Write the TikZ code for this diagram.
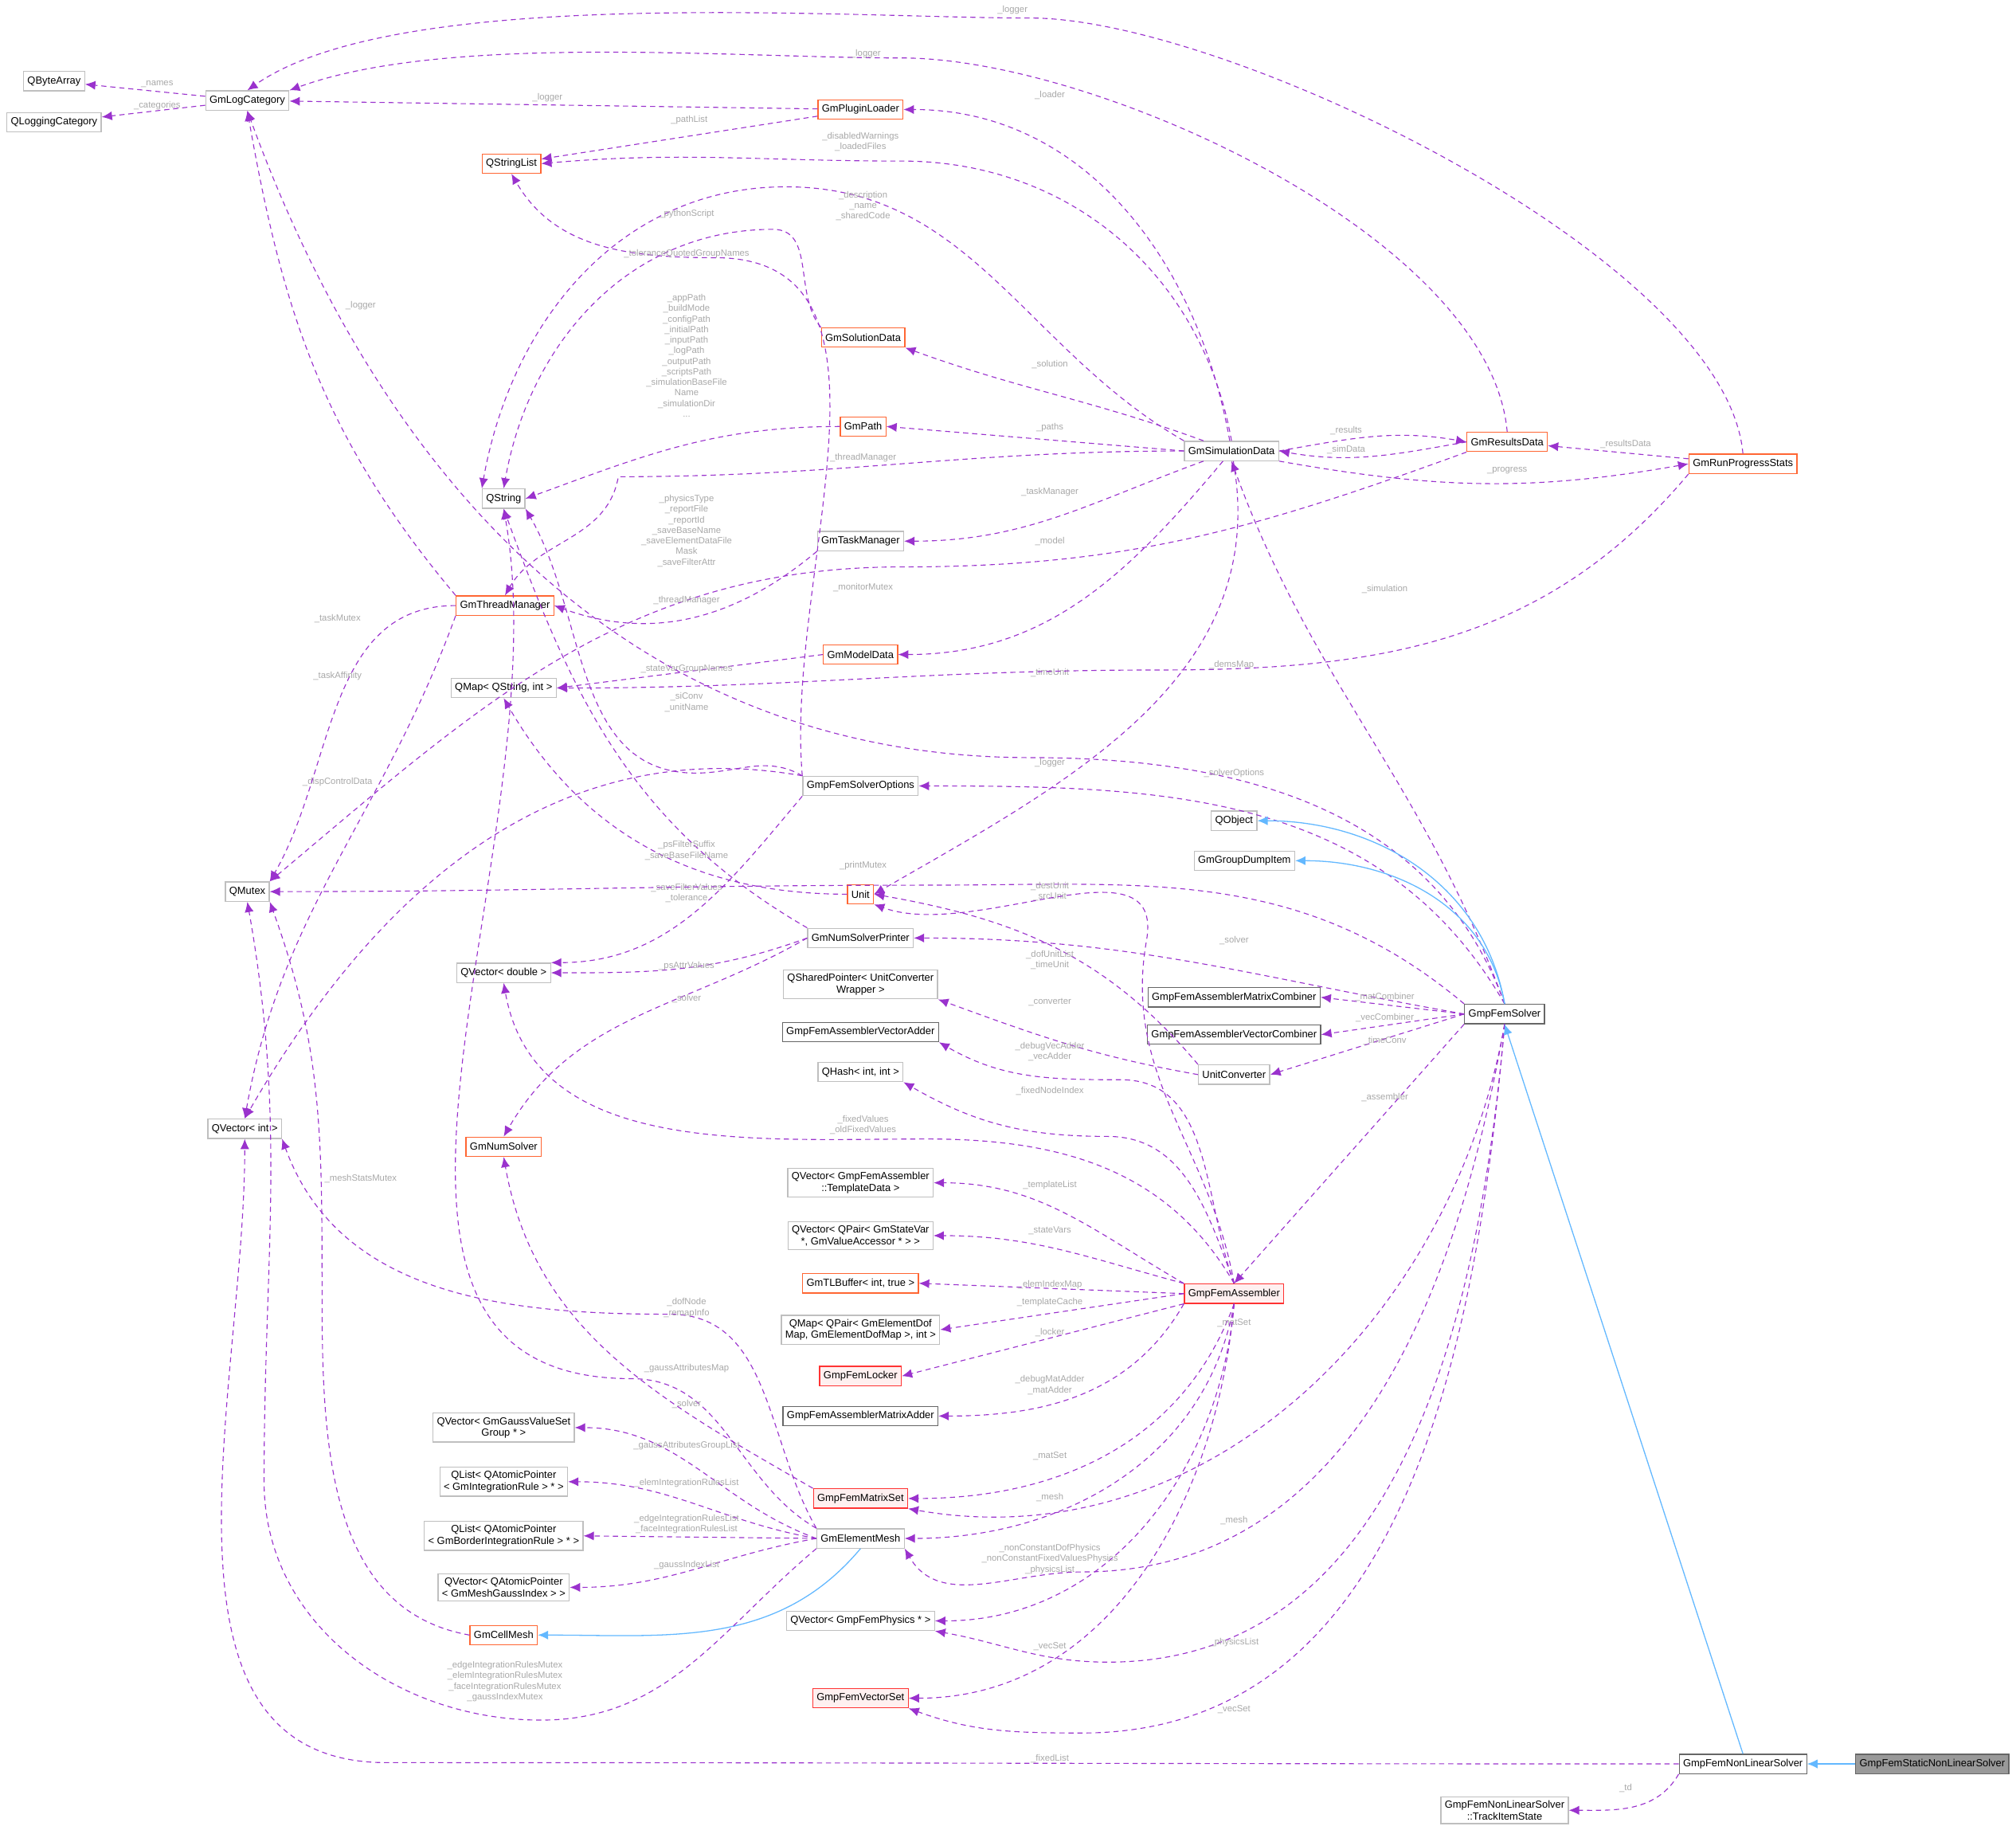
\documentclass[tikz,border=0pt]{standalone}
\usepackage{fontspec}
\setmainfont{Liberation Sans}
\usetikzlibrary{arrows.meta}
\definecolor{pur}{HTML}{9A32CD}
\definecolor{lblc}{HTML}{A8A8A8}
\definecolor{bgray}{HTML}{BFBFBF}
\definecolor{bor}{HTML}{FF6633}
\definecolor{bred}{HTML}{FF3333}
\definecolor{inh}{HTML}{63B8FF}
\begin{document}
\begin{tikzpicture}[x=1pt,y=-1pt,
 every node/.style={font=\fontsize{8}{9}\selectfont},
 box/.style={draw=bgray,fill=white,line width=0.8pt,inner sep=3pt,minimum height=15pt,align=center},
 obox/.style={box,draw=bor},
 rbox/.style={box,draw=bred,fill=red!6},
 dbox/.style={box,draw=black!60},
 root/.style={box,draw=black!60,fill=black!40},
 ref/.style={pur,dashed,dash pattern=on 4pt off 3pt,line width=0.7pt,-{Latex[length=8pt,width=7pt]}},
 isa/.style={inh,line width=0.8pt,-{Latex[length=8pt,width=7pt]}},
 lbl/.style={text=lblc,align=center,inner sep=0pt,font=\fontsize{7}{8.2}\selectfont}]
\useasboundingbox (0,0) rectangle (1565,1420);
% nodes
\node[box] (qba) at (42,63) {QByteArray};
\node[box] (qlc) at (42,95) {QLoggingCategory};
\node[box] (glc) at (192,78) {GmLogCategory};
\node[obox] (gpl) at (668,85) {GmPluginLoader};
\node[obox] (qsl) at (397,127) {QStringList};
\node[obox] (gsd) at (670,262) {GmSolutionData};
\node[obox] (gpath) at (670,331) {GmPath};
\node[box] (qs) at (391,387) {QString};
\node[box] (gsim) at (956,350) {GmSimulationData};
\node[obox] (grd) at (1170,343) {GmResultsData};
\node[obox] (grp) at (1353,360) {GmRunProgressStats};
\node[box] (gtm) at (668,420) {GmTaskManager};
\node[obox] (gthm) at (392,470) {GmThreadManager};
\node[obox] (gmd) at (668,508) {GmModelData};
\node[box] (qmqs) at (391,534) {QMap\textless{} QString, int \textgreater};
\node[box] (gfso) at (668,610) {GmpFemSolverOptions};
\node[box] (qobj) at (958,637) {QObject};
\node[box] (ggdi) at (966,668) {GmGroupDumpItem};
\node[box] (qmut) at (192,692) {QMutex};
\node[obox] (unit) at (668,694) {Unit};
\node[box] (gnsp) at (668,728) {GmNumSolverPrinter};
\node[box] (qvd) at (391,755) {QVector\textless{} double \textgreater};
\node[box] (qsp) at (668,764) {QSharedPointer\textless{} UnitConverter\\Wrapper \textgreater};
\node[dbox] (gmc) at (958,774) {GmpFemAssemblerMatrixCombiner};
\node[dbox] (gfs) at (1168,787) {GmpFemSolver};
\node[dbox] (gva) at (668,801) {GmpFemAssemblerVectorAdder};
\node[dbox] (gvc) at (958,803) {GmpFemAssemblerVectorCombiner};
\node[box] (qh) at (668,832) {QHash\textless{} int, int \textgreater};
\node[box] (uc) at (958,834) {UnitConverter};
\node[box] (qvi) at (190,876) {QVector\textless{} int \textgreater};
\node[obox] (gns) at (391,890) {GmNumSolver};
\node[box] (qvtd) at (668,918) {QVector\textless{} GmpFemAssembler\\::TemplateData \textgreater};
\node[box] (qvqp) at (668,959) {QVector\textless{} QPair\textless{} GmStateVar\\*, GmValueAccessor * \textgreater{} \textgreater};
\node[obox] (gtl) at (668,996) {GmTLBuffer\textless{} int, true \textgreater};
\node[rbox] (gfa) at (958,1004) {GmpFemAssembler};
\node[box] (qmqp) at (668,1032) {QMap\textless{} QPair\textless{} GmElementDof\\Map, GmElementDofMap \textgreater, int \textgreater};
\node[rbox] (gfl) at (668,1068) {GmpFemLocker};
\node[dbox] (gma) at (668,1099) {GmpFemAssemblerMatrixAdder};
\node[box] (qvg) at (391,1108) {QVector\textless{} GmGaussValueSet\\Group * \textgreater};
\node[rbox] (gms) at (668,1163) {GmpFemMatrixSet};
\node[box] (qla) at (391,1150) {QList\textless{} QAtomicPointer\\\textless{} GmIntegrationRule \textgreater{} * \textgreater};
\node[box] (gem) at (668,1194) {GmElementMesh};
\node[box] (qlab) at (391,1192) {QList\textless{} QAtomicPointer\\\textless{} GmBorderIntegrationRule \textgreater{} * \textgreater};
\node[box] (qvam) at (391,1232) {QVector\textless{} QAtomicPointer\\\textless{} GmMeshGaussIndex \textgreater{} \textgreater};
\node[obox] (gcm) at (391,1269) {GmCellMesh};
\node[box] (qvp) at (668,1258) {QVector\textless{} GmpFemPhysics * \textgreater};
\node[rbox] (gvs) at (668,1318) {GmpFemVectorSet};
\node[dbox] (gnl) at (1353,1369) {GmpFemNonLinearSolver};
\node[root] (gsnl) at (1500,1369) {GmpFemStaticNonLinearSolver};
\node[box] (tis) at (1168,1405) {GmpFemNonLinearSolver\\::TrackItemState};
% edges
\draw[ref] (glc) -- (qba); \node[lbl] at (122,65) {\_names};
\draw[ref] (glc) -- (qlc); \node[lbl] at (122,82) {\_categories};
\draw[ref] (gpl) -- (glc); \node[lbl] at (425,76) {\_logger};
\draw[ref] (gpl) -- (qsl); \node[lbl] at (535,93) {\_pathList};
\draw[ref] (gsim.north) to[out=100,in=0] (700,125) to[out=180,in=5] (qsl.east); \node[lbl] at (668,110) {\_disabledWarnings\\\_loadedFiles};
\draw[ref] (grd.north) to[out=95,in=0,looseness=0.7] (700,45) to[out=180,in=20,looseness=0.7] (glc.north east); \node[lbl] at (672,42) {\_logger};
\draw[ref] (grp.north) to[out=95,in=0,looseness=0.6] (800,14) to[out=180,in=35,looseness=0.6] (glc.north); \node[lbl] at (786,8) {\_logger};
\draw[ref] (gsim) to[out=100,in=0] (gpl.east); \node[lbl] at (815,74) {\_loader};
\draw[ref] (gsim.north west) to[out=150,in=0] (610,145) to[out=180,in=80] (qs.north west); \node[lbl] at (670,160) {\_description\\\_name\\\_sharedCode};
\draw[ref] (gsd.north west) to[out=130,in=0] (600,178) to[out=180,in=80] (qs.north); \node[lbl] at (533,166) {\_pythonScript};
\draw[ref] (gfso.north west) to[out=95,in=0] (555,200) to[out=180,in=-60] (qsl.south); \node[lbl] at (533,197) {\_toleranceQuotedGroupNames};
\draw[ref] (gpath.west) to[out=180,in=20] (qs.east); \node[lbl] at (533,276) {\_appPath\\\_buildMode\\\_configPath\\\_initialPath\\\_inputPath\\\_logPath\\\_outputPath\\\_scriptsPath\\\_simulationBaseFile\\Name\\\_simulationDir\\...};
\draw[ref] (gsim.west) -- (gpath.east); \node[lbl] at (815,332) {\_paths};
\draw[ref] (gsim) to[out=160,in=-20] (gsd.south east); \node[lbl] at (815,283) {\_solution};
\draw[ref] (gsim.west) to[out=180,in=0] (480,370) to[out=-100,in=60] (gthm.north); \node[lbl] at (670,355) {\_threadManager};
\draw[ref] (gfso.north west) to[out=150,in=0] (540,600) to[out=180,in=-60] (qs.south east); \node[lbl] at (533,412) {\_physicsType\\\_reportFile\\\_reportId\\\_saveBaseName\\\_saveElementDataFile\\Mask\\\_saveFilterAttr};
\draw[ref] (gsim) to[out=-160,in=0] (gtm.east); \node[lbl] at (815,382) {\_taskManager};
\draw[ref] (gsim) to[out=-130,in=0] (gmd.east); \node[lbl] at (815,420) {\_model};
\draw[ref] (gsim) to[out=-80,in=30] (unit.east); \node[lbl] at (815,522) {\_timeUnit};
\draw[ref] (gsim.east) to[out=10,in=170] (grd.west); \node[lbl] at (1045,334) {\_results};
\draw[ref] (grd.west) to[out=190,in=-10] (gsim.east); \node[lbl] at (1045,349) {\_simData};
\draw[ref] (gsim.south east) to[out=-10,in=190] (grp.west); \node[lbl] at (1170,365) {\_progress};
\draw[ref] (grp) -- (grd); \node[lbl] at (1262,345) {\_resultsData};
\draw[ref] (grd.south west) to[out=200,in=0] (700,440) to[out=180,in=40] (qmut.north east); \node[lbl] at (670,456) {\_monitorMutex};
\draw[ref] (gtm.south west) to[out=-140,in=-20] (gthm.east); \node[lbl] at (533,466) {\_threadManager};
\draw[ref] (grp.south west) to[out=-130,in=0] (900,520) to[out=180,in=0] (qmqs.east); \node[lbl] at (956,516) {\_demsMap};
\draw[ref] (gmd.west) -- (qmqs.east); \node[lbl] at (533,519) {\_stateVarGroupNames};
\draw[ref] (unit.west) to[out=180,in=-60] (qmqs.south); \node[lbl] at (533,545) {\_siConv\\\_unitName};
\draw[ref] (gfs.north) to[out=110,in=-70] (gsim.south); \node[lbl] at (1075,457) {\_simulation};
\draw[ref] (gfs.north) to[out=110,in=0] (800,588) to[out=180,in=-70] (glc.south); \node[lbl] at (815,592) {\_logger};
\draw[ref] (gfs.north) to[out=120,in=0] (gfso.east); \node[lbl] at (958,600) {\_solverOptions};
\draw[isa] (gfs.north) to[out=100,in=0] (qobj.east);
\draw[isa] (gfs.north) to[out=100,in=0] (ggdi.east);
\draw[ref] (gfso.north west) to[out=170,in=60] (qvi.north); \node[lbl] at (262,607) {\_dispControlData};
\draw[ref] (gfso.south west) to[out=-130,in=0] (qvd.north east); \node[lbl] at (533,693) {\_saveFilterValues\\\_tolerance};
\draw[ref] (gnsp.west) to[out=-160,in=0] (qvd.east); \node[lbl] at (533,750) {\_psAttrValues};
\draw[ref] (gnsp.west) to[out=-150,in=60] (gns.north); \node[lbl] at (533,775) {\_solver};
\draw[ref] (gnsp.north west) to[out=150,in=-70] (qs.south); \node[lbl] at (533,660) {\_psFilterSuffix\\\_saveBaseFileName};
\draw[ref] (gfs.north west) to[out=140,in=0] (720,687) to[out=180,in=0] (qmut.east); \node[lbl] at (670,672) {\_printMutex};
\draw[ref] (uc.north west) to[out=130,in=-10] (unit.east); \node[lbl] at (815,692) {\_destUnit\\\_srcUnit};
\draw[ref] (gfs.west) to[out=170,in=0] (gnsp.east); \node[lbl] at (958,730) {\_solver};
\draw[ref] (gfa.north) to[out=100,in=-100] (890,730) to[out=80,in=-20] (unit.south east); \node[lbl] at (815,745) {\_dofUnitList\\\_timeUnit};
\draw[ref] (uc.west) to[out=170,in=-20] (qsp.south east); \node[lbl] at (815,778) {\_converter};
\draw[ref] (gfs.west) -- (gmc.east); \node[lbl] at (1075,774) {\_matCombiner};
\draw[ref] (gfs.west) -- (gvc.east); \node[lbl] at (1075,790) {\_vecCombiner};
\draw[ref] (gfs.west) -- (uc.east); \node[lbl] at (1075,808) {\_timeConv};
\draw[ref] (gfs.south west) -- (gfa.north); \node[lbl] at (1075,852) {\_assembler};
\draw[ref] (gfa.north) to[out=110,in=0] (870,838) to[out=180,in=-30] (gva.south east); \node[lbl] at (815,816) {\_debugVecAdder\\\_vecAdder};
\draw[ref] (gfa.north) to[out=110,in=0] (860,882) to[out=180,in=-30] (qh.south east); \node[lbl] at (815,847) {\_fixedNodeIndex};
\draw[ref] (gfa.north) to[out=120,in=0] (720,884) to[out=180,in=-80] (qvd.south); \node[lbl] at (670,873) {\_fixedValues\\\_oldFixedValues};
\draw[ref] (gfa.north west) to[out=150,in=0] (qvtd.east); \node[lbl] at (815,920) {\_templateList};
\draw[ref] (gfa.north west) to[out=165,in=0] (qvqp.east); \node[lbl] at (815,955) {\_stateVars};
\draw[ref] (gfa.west) -- (gtl.east); \node[lbl] at (815,997) {\_elemIndexMap};
\draw[ref] (gfa.west) -- (qmqp.east); \node[lbl] at (815,1011) {\_templateCache};
\draw[ref] (gfa.south west) -- (gfl.east); \node[lbl] at (815,1034) {\_locker};
\draw[ref] (gfa.south west) to[out=-120,in=0] (gma.east); \node[lbl] at (815,1075) {\_debugMatAdder\\\_matAdder};
\draw[ref] (gfa.south) to[out=-110,in=0] (gms.east); \node[lbl] at (815,1130) {\_matSet};
\draw[ref] (gfs.south) to[out=-100,in=-10] (gms.south east); \node[lbl] at (958,1027) {\_matSet};
\draw[ref] (gfa.south) to[out=-100,in=0] (gem.east); \node[lbl] at (815,1162) {\_mesh};
\draw[ref] (gfs.south) to[out=-100,in=0] (840,1220) to[out=180,in=-60] (gem.south east); \node[lbl] at (958,1180) {\_mesh};
\draw[ref] (gfa.south) to[out=-95,in=0] (qvp.east); \node[lbl] at (815,1210) {\_nonConstantDofPhysics\\\_nonConstantFixedValuesPhysics\\\_physicsList};
\draw[ref] (gfs.south) to[out=-95,in=0] (860,1290) to[out=180,in=-10] (qvp.south east); \node[lbl] at (958,1275) {\_physicsList};
\draw[ref] (gfa.south) to[out=-95,in=0] (gvs.east); \node[lbl] at (815,1278) {\_vecSet};
\draw[ref] (gfs.south) to[out=-95,in=0] (840,1345) to[out=180,in=-20] (gvs.south east); \node[lbl] at (958,1327) {\_vecSet};
\draw[ref] (gem.north west) to[out=120,in=0] (520,1020) to[out=180,in=-70] (qvi.south east); \node[lbl] at (533,1015) {\_dofNode\\\_remapInfo};
\draw[ref] (gem.north west) to[out=150,in=0] (490,1070) to[out=180,in=-80] (qs.south); \node[lbl] at (533,1062) {\_gaussAttributesMap};
\draw[ref] (gms.north west) to[out=150,in=-80] (gns.south); \node[lbl] at (533,1090) {\_solver};
\draw[ref] (gem.west) to[out=160,in=0] (qvg.east); \node[lbl] at (533,1122) {\_gaussAttributesGroupList};
\draw[ref] (gem.west) to[out=170,in=0] (qla.east); \node[lbl] at (533,1151) {\_elemIntegrationRulesList};
\draw[ref] (gem.west) -- (qlab.east); \node[lbl] at (533,1183) {\_edgeIntegrationRulesList\\\_faceIntegrationRulesList};
\draw[ref] (gem.west) to[out=190,in=0] (qvam.east); \node[lbl] at (533,1215) {\_gaussIndexList};
\draw[isa] (gem.south) to[out=-130,in=0] (gcm.east);
\draw[ref] (gem.south west) to[out=-140,in=0] (420,1335) to[out=180,in=-90] (205,1150) to[out=90,in=-80] (qmut.south); \node[lbl] at (392,1305) {\_edgeIntegrationRulesMutex\\\_elemIntegrationRulesMutex\\\_faceIntegrationRulesMutex\\\_gaussIndexMutex};
\draw[ref] (gcm.west) to[out=170,in=-90] (250,1000) to[out=90,in=-70] (qmut.south east); \node[lbl] at (280,915) {\_meshStatsMutex};
\draw[ref] (gthm.north west) to[out=130,in=-80] (glc.south); \node[lbl] at (280,237) {\_logger};
\draw[ref] (gthm.west) to[out=180,in=60] (qmut.north east); \node[lbl] at (262,480) {\_taskMutex};
\draw[ref] (gthm.south west) to[out=-110,in=80] (qvi.north); \node[lbl] at (262,525) {\_taskAffinity};
\draw[ref] (gnl.west) to[out=180,in=0] (300,1368) to[out=180,in=-90] (qvi.south); \node[lbl] at (815,1365) {\_fixedList};
\draw[isa] (gnl.north) -- (gfs.south);
\draw[isa] (gsnl.west) -- (gnl.east);
\draw[ref] (gnl.south west) to[out=-120,in=0] (tis.east); \node[lbl] at (1262,1388) {\_td};
\end{tikzpicture}
\end{document}
